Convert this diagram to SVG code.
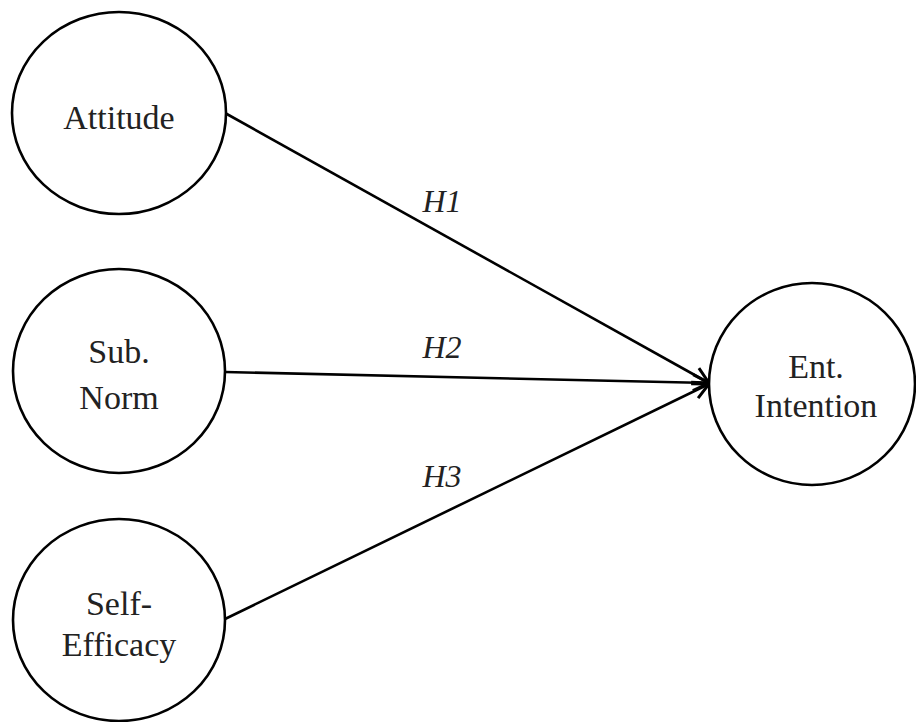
<svg xmlns="http://www.w3.org/2000/svg" width="916" height="722" viewBox="0 0 916 722">
<style>
.node{fill:#fff;stroke:#000;stroke-width:2.6}
.lbl{font-family:"Liberation Serif","Times New Roman",serif;font-size:34px;fill:#222;text-anchor:middle}
.h{font-family:"Liberation Serif","Times New Roman",serif;font-size:32px;font-style:italic;fill:#222;text-anchor:middle}
.edge{stroke:#000;stroke-width:2.6;fill:none;marker-end:url(#arr)}
</style>
<defs>
<marker id="arr" markerUnits="userSpaceOnUse" markerWidth="24" markerHeight="24" viewBox="0 0 24 24" refX="21" refY="12" orient="auto">
<path d="M5,4 L21,12 L5,20" fill="none" stroke="#000" stroke-width="3"/>
</marker>
</defs>
<rect width="916" height="722" fill="#fff"/>
<g id="connectors">
<line class="edge" x1="225" y1="113" x2="709" y2="383"/>
<line class="edge" x1="225" y1="372" x2="709" y2="383"/>
<line class="edge" x1="225" y1="619" x2="709" y2="384"/>
<text class="h" x="442" y="212">H1</text>
<text class="h" x="442" y="358">H2</text>
<text class="h" x="442" y="487">H3</text>
</g>
<g id="attitude">
<ellipse class="node" cx="119" cy="113" rx="107" ry="101"/>
<text class="lbl" x="119" y="129">Attitude</text>
</g>
<g id="subnorm">
<ellipse class="node" cx="119" cy="371" rx="106" ry="102"/>
<text class="lbl" x="119" y="363">Sub.</text>
<text class="lbl" x="119" y="409">Norm</text>
</g>
<g id="selfefficacy">
<ellipse class="node" cx="119" cy="620" rx="106" ry="101"/>
<text class="lbl" x="119" y="615">Self-</text>
<text class="lbl" x="119" y="656">Efficacy</text>
</g>
<g id="entintention">
<ellipse class="node" cx="812" cy="384" rx="103" ry="101"/>
<text class="lbl" x="816" y="378">Ent.</text>
<text class="lbl" x="816" y="417">Intention</text>
</g>
</svg>
